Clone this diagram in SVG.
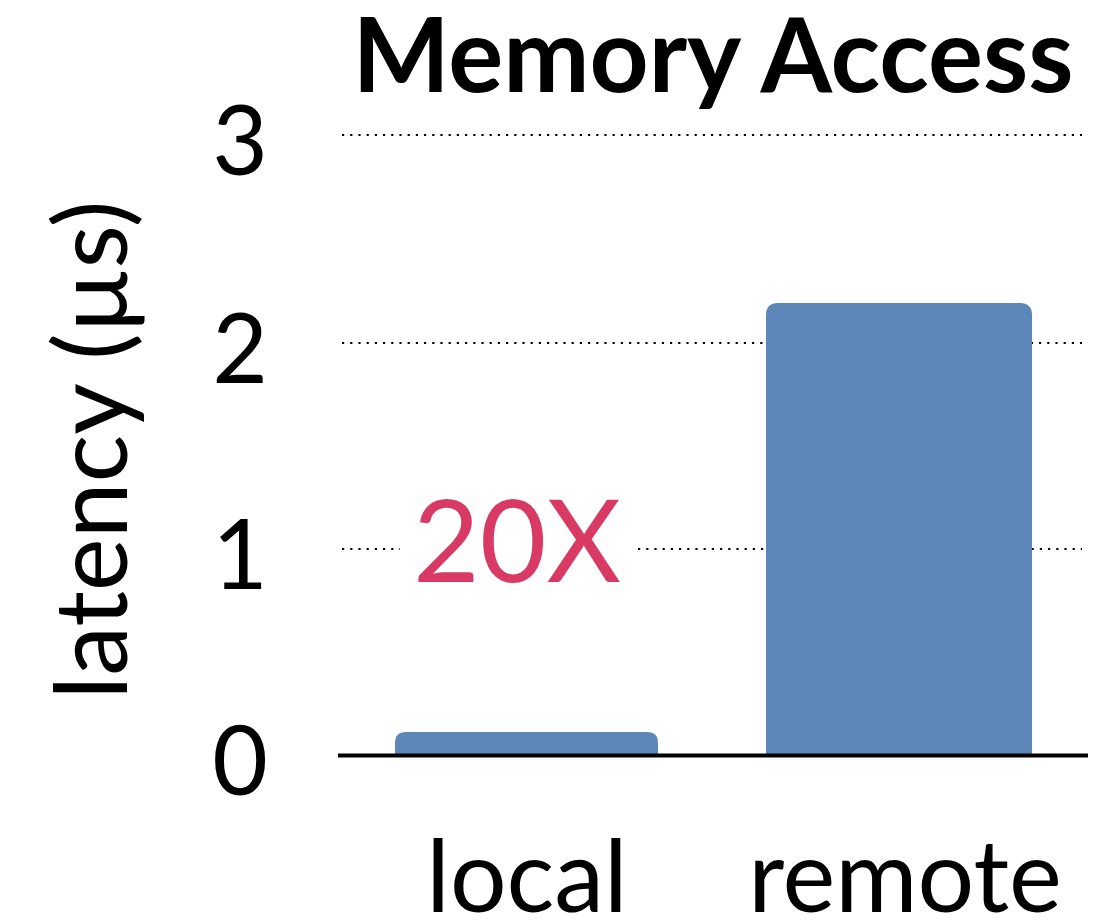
<svg xmlns="http://www.w3.org/2000/svg" width="1118" height="920" viewBox="0 0 1118 920">
  <style>
    .grid { stroke: #000; stroke-width: 2.2; stroke-dasharray: 2.2 6; fill: none; }
    .axis { stroke: #000; stroke-width: 4; }
    .tick { font-family: Lato, "Liberation Sans", sans-serif; font-size: 96px; fill: #000; text-anchor: end; }
    .cat { font-family: Lato, "Liberation Sans", sans-serif; font-size: 100px; fill: #000; text-anchor: middle; }
    .bar { fill: #5e87b9; }
  </style>
  <rect width="1118" height="920" fill="#fff"/>

  <!-- title -->
  <text x="713" y="92" font-family="Lato, 'Liberation Sans', sans-serif" font-weight="bold" font-size="103" text-anchor="middle">Memory Access</text>

  <!-- y axis label -->
  <text transform="translate(127,450) rotate(-90)" font-family="Lato, 'Liberation Sans', sans-serif" font-size="100" text-anchor="middle">latency (µs)</text>

  <!-- gridlines -->
  <g id="gridlines">
    <line class="grid" x1="342" y1="135" x2="1082" y2="135"/>
    <line class="grid" x1="342" y1="343" x2="1082" y2="343"/>
    <line class="grid" x1="342" y1="549" x2="400" y2="549"/>
    <line class="grid" x1="638" y1="549" x2="1082" y2="549"/>
  </g>

  <!-- tick labels -->
  <g id="ticks">
    <text class="tick" x="268" y="175">3</text>
    <text class="tick" x="268" y="383">2</text>
    <text class="tick" x="268" y="589">1</text>
    <text class="tick" x="268" y="795">0</text>
  </g>

  <!-- bars -->
  <g id="bar-local">
    <path class="bar" d="M395,755 V743 Q395,732 406,732 H647 Q658,732 658,743 V755 Z"/>
  </g>
  <g id="bar-remote">
    <path class="bar" d="M766,755 V315 Q766,303 778,303 H1020 Q1032,303 1032,315 V755 Z"/>
  </g>

  <!-- baseline axis -->
  <line class="axis" x1="338" y1="755.5" x2="1088" y2="755.5"/>

  <!-- ratio annotation -->
  <text x="413" y="582" font-family="Lato, 'Liberation Sans', sans-serif" font-size="115" fill="#d83a63">20X</text>

  <!-- category labels -->
  <g id="categories">
    <text class="cat" x="527" y="912">local</text>
    <text class="cat" x="905" y="912">remote</text>
  </g>
</svg>
